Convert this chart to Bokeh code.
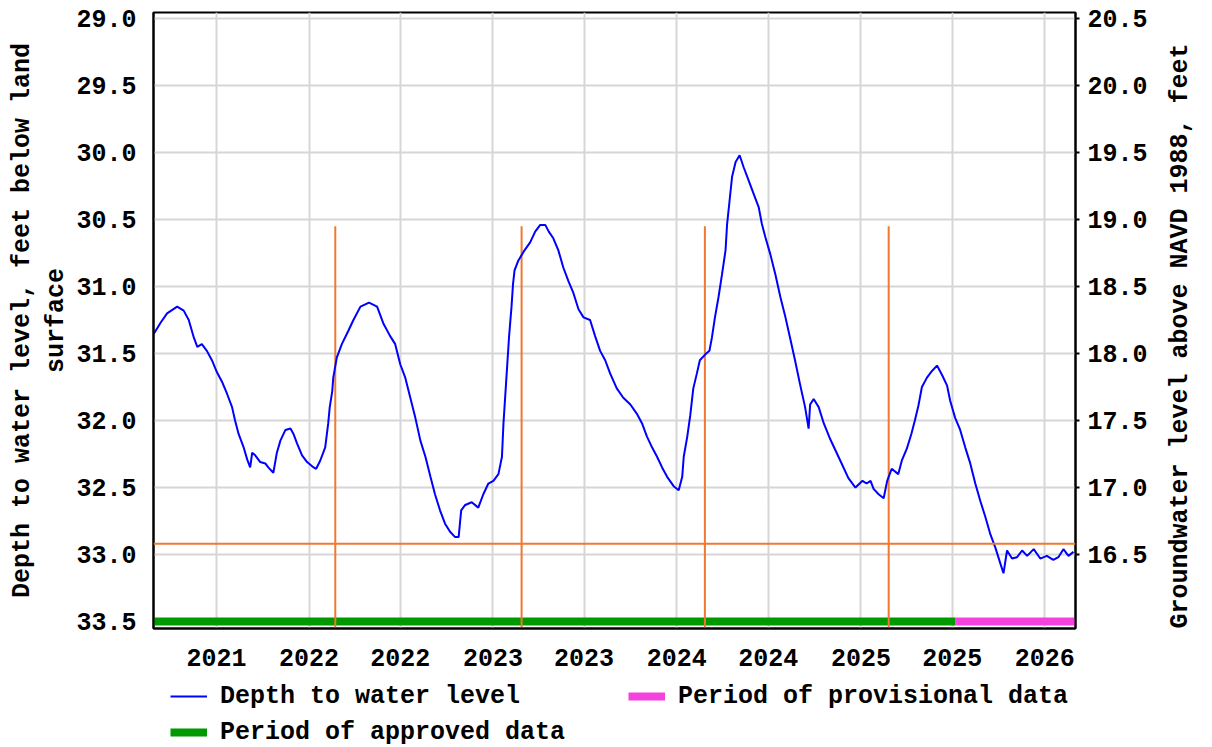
import math
import pandas as pd
from bokeh.plotting import figure
from bokeh.layouts import column
from bokeh.models import (Range1d, LinearAxis, FixedTicker, DatetimeTickFormatter,
                          PrintfTickFormatter, Legend, LegendItem, Span)
from bokeh.embed import file_html
from bokeh.resources import INLINE

# ---------------- data ----------------
dates = [
    "2021-02-27", "2021-03-12", "2021-03-25", "2021-04-14", "2021-04-27", "2021-05-07",
    "2021-05-17", "2021-05-24", "2021-06-02", "2021-06-12", "2021-06-22", "2021-07-02",
    "2021-07-12", "2021-07-22", "2021-08-01", "2021-08-07", "2021-08-14", "2021-08-24",
    "2021-08-31", "2021-09-06", "2021-09-10", "2021-09-16", "2021-09-26", "2021-10-06",
    "2021-10-12", "2021-10-22", "2021-10-29", "2021-11-05", "2021-11-15", "2021-11-25",
    "2021-12-01", "2021-12-08", "2021-12-18", "2021-12-28", "2022-01-10", "2022-01-15",
    "2022-01-23", "2022-02-02", "2022-02-08", "2022-02-11", "2022-02-16", "2022-02-18",
    "2022-02-25", "2022-03-07", "2022-03-20", "2022-03-30", "2022-04-13", "2022-04-30",
    "2022-05-16", "2022-05-29", "2022-06-11", "2022-06-21", "2022-07-01", "2022-07-11",
    "2022-07-21", "2022-07-31", "2022-08-10", "2022-08-20", "2022-08-30", "2022-09-08",
    "2022-09-18", "2022-09-28", "2022-10-08", "2022-10-18", "2022-10-25", "2022-10-30",
    "2022-11-07", "2022-11-20", "2022-12-03", "2022-12-13", "2022-12-23", "2023-01-02",
    "2023-01-12", "2023-01-19", "2023-01-22", "2023-01-27", "2023-02-02", "2023-02-07",
    "2023-02-10", "2023-02-13", "2023-02-20", "2023-03-03", "2023-03-16", "2023-03-26",
    "2023-04-05", "2023-04-15", "2023-04-22", "2023-05-01", "2023-05-11", "2023-05-21",
    "2023-05-31", "2023-06-10", "2023-06-20", "2023-06-30", "2023-07-13", "2023-07-23",
    "2023-08-02", "2023-08-12", "2023-08-22", "2023-09-04", "2023-09-17", "2023-10-01",
    "2023-10-14", "2023-10-24", "2023-11-03", "2023-11-13", "2023-11-23", "2023-12-03",
    "2023-12-13", "2023-12-26", "2024-01-05", "2024-01-12", "2024-01-15", "2024-01-22",
    "2024-01-28", "2024-02-03", "2024-02-10", "2024-02-16", "2024-02-26", "2024-03-06",
    "2024-03-11", "2024-03-17", "2024-03-24", "2024-03-31", "2024-04-07", "2024-04-10",
    "2024-04-15", "2024-04-20", "2024-04-27", "2024-05-05", "2024-05-13", "2024-05-23",
    "2024-06-02", "2024-06-12", "2024-06-18", "2024-06-25", "2024-07-05", "2024-07-15",
    "2024-07-25", "2024-08-04", "2024-08-13", "2024-08-23", "2024-09-02", "2024-09-12",
    "2024-09-19", "2024-09-22", "2024-09-29", "2024-10-09", "2024-10-19", "2024-11-01",
    "2024-11-21", "2024-12-07", "2024-12-21", "2025-01-04", "2025-01-12", "2025-01-20",
    "2025-01-26", "2025-02-05", "2025-02-15", "2025-02-22", "2025-03-03", "2025-03-16",
    "2025-03-23", "2025-04-02", "2025-04-11", "2025-04-18", "2025-04-25", "2025-05-02",
    "2025-05-12", "2025-05-22", "2025-06-01", "2025-06-11", "2025-06-21", "2025-06-27",
    "2025-07-07", "2025-07-17", "2025-07-27", "2025-08-06", "2025-08-16", "2025-08-26",
    "2025-09-05", "2025-09-15", "2025-09-25", "2025-10-05", "2025-10-11", "2025-10-18",
    "2025-10-28", "2025-11-07", "2025-11-17", "2025-11-27", "2025-12-10", "2025-12-23",
    "2026-01-05", "2026-01-18", "2026-01-28", "2026-02-07", "2026-02-17", "2026-02-27",
]
depth_ft = [
    31.35, 31.27, 31.20, 31.15, 31.18, 31.25,
    31.38, 31.45, 31.43, 31.48, 31.55, 31.64,
    31.71, 31.80, 31.90, 32.00, 32.10, 32.20,
    32.29, 32.35, 32.24, 32.26, 32.31, 32.32,
    32.35, 32.39, 32.24, 32.15, 32.07, 32.06,
    32.10, 32.17, 32.26, 32.31, 32.35, 32.36,
    32.30, 32.20, 32.02, 31.90, 31.78, 31.68,
    31.53, 31.43, 31.33, 31.25, 31.15, 31.12,
    31.15, 31.28, 31.37, 31.43, 31.58, 31.68,
    31.83, 31.98, 32.15, 32.27, 32.42, 32.55,
    32.67, 32.77, 32.83, 32.87, 32.87, 32.67,
    32.63, 32.61, 32.65, 32.55, 32.47, 32.45,
    32.40, 32.27, 32.02, 31.73, 31.38, 31.15,
    30.98, 30.88, 30.81, 30.74, 30.67, 30.59,
    30.54, 30.54, 30.59, 30.64, 30.73, 30.86,
    30.96, 31.05, 31.17, 31.23, 31.25, 31.37,
    31.48, 31.55, 31.65, 31.76, 31.83, 31.88,
    31.95, 32.02, 32.12, 32.20, 32.27, 32.35,
    32.42, 32.49, 32.52, 32.42, 32.27, 32.12,
    31.96, 31.76, 31.65, 31.55, 31.51, 31.48,
    31.38, 31.23, 31.08, 30.91, 30.73, 30.54,
    30.36, 30.18, 30.07, 30.02, 30.11, 30.21,
    30.31, 30.41, 30.53, 30.63, 30.76, 30.91,
    31.08, 31.23, 31.38, 31.55, 31.73, 31.90,
    32.06, 31.88, 31.84, 31.90, 32.02, 32.14,
    32.30, 32.43, 32.50, 32.45, 32.47, 32.45,
    32.51, 32.55, 32.58, 32.45, 32.36, 32.40,
    32.30, 32.21, 32.10, 32.00, 31.89, 31.75,
    31.68, 31.63, 31.59, 31.66, 31.74, 31.85,
    31.98, 32.07, 32.20, 32.32, 32.47, 32.60,
    32.72, 32.85, 32.95, 33.07, 33.14, 32.97,
    33.03, 33.02, 32.97, 33.01, 32.96, 33.03,
    33.01, 33.04, 33.02, 32.96, 33.01, 32.98,
]

approved_period = ["2021-02-26", "2025-07-07"]
provisional_period = ["2025-07-07", "2026-03-03"]
period_bar_level = 33.5

marker_dates = ["2022-02-22", "2023-02-27", "2024-02-26", "2025-02-25"]
marker_top = 30.55
reference_level = 32.92

x_tick_dates = ["2021-07-01", "2022-01-01", "2022-07-01", "2023-01-01", "2023-07-01",
                "2024-01-01", "2024-07-01", "2025-01-01", "2025-07-01", "2026-01-01"]
depth_ticks = [29.0, 29.5, 30.0, 30.5, 31.0, 31.5, 32.0, 32.5, 33.0, 33.5]
elevation_ticks = [16.5, 17.0, 17.5, 18.0, 18.5, 19.0, 19.5, 20.0, 20.5]
land_surface_navd88 = 49.5   # elevation = 49.5 - depth

x_range_dates = ["2021-02-26", "2026-03-03"]
depth_range = [33.552, 28.955]   # bottom, top (inverted axis)

legend_labels = ["Depth to water level", "Period of approved data",
                 "Period of provisional data"]

# ---------------- styles ----------------
FONT = "Liberation Mono"
FSIZE = "25px"
BLUE = "#0000ff"
GREEN = "#009900"
MAGENTA = "#f542dd"
ORANGE = "#f07830"
GRID = "#d6d6d6"

def ms(d):
    return pd.Timestamp(d).timestamp() * 1000.0

x = pd.to_datetime(dates)

MAIN_H = 675
LEG_H = 72

p = figure(width=1212, height=MAIN_H, x_axis_type="datetime",
           x_range=Range1d(ms(x_range_dates[0]), ms(x_range_dates[1])),
           y_range=Range1d(depth_range[0], depth_range[1]),
           output_backend="svg", toolbar_location=None,
           min_border_left=153, min_border_right=137,
           min_border_top=12, min_border_bottom=MAIN_H - 628)

p.extra_y_ranges = {"elev": Range1d(land_surface_navd88 - depth_range[0],
                                    land_surface_navd88 - depth_range[1])}

p.outline_line_color = "black"
p.outline_line_width = 2
p.background_fill_color = "white"
p.border_fill_color = "white"

# x axis
xticker = FixedTicker(ticks=[ms(d) for d in x_tick_dates])
xa = p.xaxis[0]
xa.ticker = xticker
xa.formatter = DatetimeTickFormatter(years="%Y", months="%Y", days="%Y", hours="%Y",
                                     hourmin="%Y", minutes="%Y", minsec="%Y",
                                     seconds="%Y", milliseconds="%Y", microseconds="%Y")
p.xgrid.ticker = xticker

# left axis
yticker = FixedTicker(ticks=depth_ticks)
ya = p.yaxis[0]
ya.ticker = yticker
ya.formatter = PrintfTickFormatter(format="%.1f")
ya.axis_label = "Depth to water level, feet below land\nsurface"
p.ygrid.ticker = yticker

# right axis
ra = LinearAxis(y_range_name="elev", ticker=FixedTicker(ticks=elevation_ticks),
                formatter=PrintfTickFormatter(format="%.1f"),
                axis_label="Groundwater level above NAVD 1988, feet")
p.add_layout(ra, "right")

for ax in [xa, ya, ra]:
    ax.major_label_text_font = FONT
    ax.major_label_text_font_size = FSIZE
    ax.major_label_text_font_style = "bold"
    ax.major_label_text_color = "black"
    ax.axis_label_text_font = FONT
    ax.axis_label_text_font_size = FSIZE
    ax.axis_label_text_font_style = "bold"
    ax.axis_label_text_color = "black"
    ax.minor_tick_line_color = None
    ax.axis_line_color = "black"
    ax.axis_line_width = 2

xa.major_tick_line_color = None
xa.major_label_standoff = 14
ya.major_tick_line_color = None
ya.major_label_standoff = 11
ya.axis_label_standoff = 2
ra.major_tick_line_color = "black"
ra.major_tick_line_width = 2
ra.major_tick_out = 4
ra.major_tick_in = 0
ra.major_label_standoff = 8
ra.axis_label_standoff = 30
ra.axis_label_orientation = math.pi / 2
if "axis_label_align" in ra.properties():
    ra.axis_label_align = "start"

p.xgrid.grid_line_color = GRID
p.ygrid.grid_line_color = GRID
p.xgrid.grid_line_width = 2
p.ygrid.grid_line_width = 2

# period bars
p.line(pd.to_datetime(approved_period), [period_bar_level] * 2,
       line_color=GREEN, line_width=8)
p.line(pd.to_datetime(provisional_period), [period_bar_level] * 2,
       line_color=MAGENTA, line_width=8)

# orange marker lines
mk = pd.to_datetime(marker_dates)
p.segment(x0=mk, y0=[marker_top] * len(mk), x1=mk, y1=[depth_range[0]] * len(mk),
          line_color=ORANGE, line_width=2)
p.add_layout(Span(location=reference_level, dimension="width",
                  line_color=ORANGE, line_width=2))

# water level
p.line(x, depth_ft, line_color=BLUE, line_width=2)

# ---------------- legend strip (separate figure below) ----------------
lf = figure(width=1212, height=LEG_H, x_range=Range1d(0, 1), y_range=Range1d(0, 1),
            x_axis_location=None, y_axis_location=None,
            output_backend="svg", toolbar_location=None,
            min_border=0, min_border_left=0, min_border_right=0,
            min_border_top=0, min_border_bottom=0)
lf.outline_line_color = None
lf.grid.visible = False
lf.background_fill_color = "white"
lf.border_fill_color = "white"
l_depth = lf.line(x, depth_ft, line_color=BLUE, line_width=2, visible=False)
l_appr = lf.line(pd.to_datetime(approved_period), [period_bar_level] * 2,
                 line_color=GREEN, line_width=8, visible=False)
l_prov = lf.line(pd.to_datetime(provisional_period), [period_bar_level] * 2,
                 line_color=MAGENTA, line_width=8, visible=False)

legend = Legend(items=[
    LegendItem(label=legend_labels[0], renderers=[l_depth]),
    LegendItem(label=legend_labels[1], renderers=[l_appr]),
    LegendItem(label=legend_labels[2], renderers=[l_prov]),
], orientation="vertical", ncols=2, location=(17, -3), margin=0, padding=0,
    spacing=0, glyph_width=37, glyph_height=20, label_standoff=13,
    label_width=408, label_height=36, click_policy="none",
    border_line_color=None, background_fill_alpha=0)
legend.label_text_font = FONT
legend.label_text_font_size = FSIZE
legend.label_text_font_style = "bold"
legend.label_text_color = "black"
lf.add_layout(legend)

page = column(p, lf, spacing=0)
open("out.html", "w").write(file_html(page, INLINE))
